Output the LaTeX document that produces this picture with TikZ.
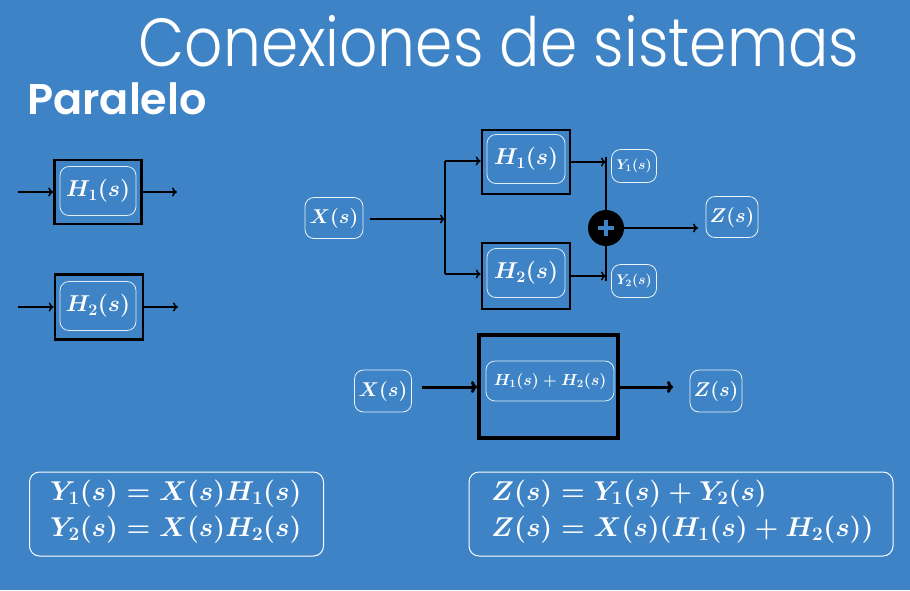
\documentclass[tikz,border=0pt]{standalone}
\usepackage{fix-cm}
\usepackage{fontspec}
\usepackage{amsmath}
\usetikzlibrary{arrows.meta}
\newfontfamily\titlefont[FakeStretch=0.88]{Poppins Light}
\newfontfamily\subfont{Poppins SemiBold}
\definecolor{bg}{RGB}{61,131,197}
\tikzset{
  blk/.style={draw=black,line width=2.6pt,fill=bg},
  inr/.style={draw=white,draw opacity=0.85,line width=0.8pt,rounded corners=9pt,text=white,font=\fontsize{23}{25}\selectfont\boldmath},
  sig/.style={draw=white,draw opacity=0.9,line width=0.8pt,rounded corners=9pt,text=white,font=\fontsize{20}{22}\selectfont\boldmath,minimum width=#1},
  arr/.style={draw=black,line width=1.5pt,-{To[length=5pt,width=9pt]}},
  tharr/.style={draw=black,line width=3pt,-{To[length=6pt,width=12pt]}},
  ln/.style={draw=black,line width=1.5pt},
  eqbox/.style={draw=white,line width=1pt,rounded corners=10pt},
  eqtxt/.style={text=white,align=left,font=\fontsize{27.2}{36}\selectfont\boldmath,inner sep=0pt}
}
\begin{document}
\begin{tikzpicture}[x=1pt,y=-1pt]
\fill[bg] (0,0) rectangle (910,590);
\useasboundingbox (0,0) rectangle (910,590);
% titles
\node[text=white,font=\titlefont\fontsize{68}{70}\selectfont,anchor=base] (title) at (499,66) {Conexiones de sistemas};
\node[text=white,font=\subfont\fontsize{43}{45}\selectfont,anchor=base west,inner sep=0pt] (sub) at (27,114) {Paralelo};
% left blocks
\node[blk,minimum width=87pt,minimum height=64pt] (h1l) at (98,192) {};
\node[inr,minimum width=76pt,minimum height=49pt] (h1li) at (98,191) {$H_1(s)$};
\coordinate (a1) at (18,192); \coordinate (b1) at (177,192);
\draw[arr] (a1) -- (h1l.west);
\draw[arr] (h1l.east) -- (b1);
\node[blk,minimum width=88pt,minimum height=65pt] (h2l) at (99,307) {};
\node[inr,minimum width=76pt,minimum height=49pt] (h2li) at (98,306) {$H_2(s)$};
\coordinate (a2) at (18,307); \coordinate (b2) at (178,307);
\draw[arr] (a2) -- (h2l.west);
\draw[arr] (h2l.east) -- (b2);
% middle parallel diagram
\node[sig=58pt,minimum height=41pt] (x1) at (334,218) {$X(s)$};
\coordinate (j) at (445,219);
\coordinate (jt) at (445,161);
\coordinate (jb) at (445,274);
\draw[arr] (370,219) -- (j);
\draw[ln] (jt) -- (jb);
\node[blk,minimum width=88pt,minimum height=64pt] (h1m) at (526,162) {};
\node[inr,minimum width=78pt,minimum height=49pt] (h1mi) at (526,159) {$H_1(s)$};
\node[blk,minimum width=88pt,minimum height=66pt] (h2m) at (526,276) {};
\node[inr,minimum width=78pt,minimum height=49pt] (h2mi) at (526,273) {$H_2(s)$};
\draw[arr] (jt) -- (jt-|h1m.west);
\draw[arr] (jb) -- (jb-|h2m.west);
\node[circle,fill=black,minimum size=36pt,inner sep=0pt] (sum) at (606,228) {};
\draw[bg,line width=3.5pt] (sum.center) ++(-8,0) -- ++(16,0);
\draw[bg,line width=3.5pt] (sum.center) ++(0,-8) -- ++(0,16);
\coordinate (t1) at (606,162);
\coordinate (t2) at (606,276);
\draw[arr] (h1m.east|-t1) -- (t1);
\draw[arr] (h2m.east|-t2) -- (t2);
\draw[ln] (sum.north) -- (606,157);
\draw[ln] (sum.south) -- (606,281);
\node[sig=45pt,minimum height=33pt,font=\fontsize{14}{16}\selectfont\boldmath,inner sep=1pt] (y1) at (634,166) {$Y_1(s)$};
\node[sig=45pt,minimum height=33pt,font=\fontsize{14}{16}\selectfont\boldmath,inner sep=1pt] (y2) at (634,281) {$Y_2(s)$};
\coordinate (zt) at (698,228);
\draw[arr] (sum.east) -- (zt);
\node[sig=52pt,minimum height=41pt] (z1) at (732,217) {$Z(s)$};
% bottom equivalent
\node[sig=57pt,minimum height=42pt] (x2) at (383,391) {$X(s)$};
\node[draw=black,line width=4pt,fill=bg,minimum width=139pt,minimum height=103pt] (hs) at (548.5,386.5) {};
\node[inr,minimum width=128pt,minimum height=40pt,font=\fontsize{16}{18}\selectfont\boldmath,inner sep=2pt] (hsi) at (550,381) {$H_1(s)+H_2(s)$};
\coordinate (xa) at (422,387);
\coordinate (za) at (673,387);
\draw[tharr] (xa) -- (xa-|hs.west);
\draw[tharr] (za-|hs.east) -- (za);
\node[sig=52pt,minimum height=42pt] (z2) at (716,391) {$Z(s)$};
% equation boxes
\node[eqbox,minimum width=294pt,minimum height=84pt] (eq1) at (176.5,514) {};
\node[eqtxt,anchor=west] (eq1t) at (50,512) {$Y_1(s) = X(s)H_1(s)$\\ $Y_2(s) = X(s)H_2(s)$};
\node[eqbox,minimum width=424pt,minimum height=84pt] (eq2) at (681,514) {};
\node[eqtxt,anchor=west] (eq2t) at (491,512) {$Z(s) = Y_1(s) + Y_2(s)$\\ $Z(s) = X(s)(H_1(s) + H_2(s))$};
\end{tikzpicture}
\end{document}
